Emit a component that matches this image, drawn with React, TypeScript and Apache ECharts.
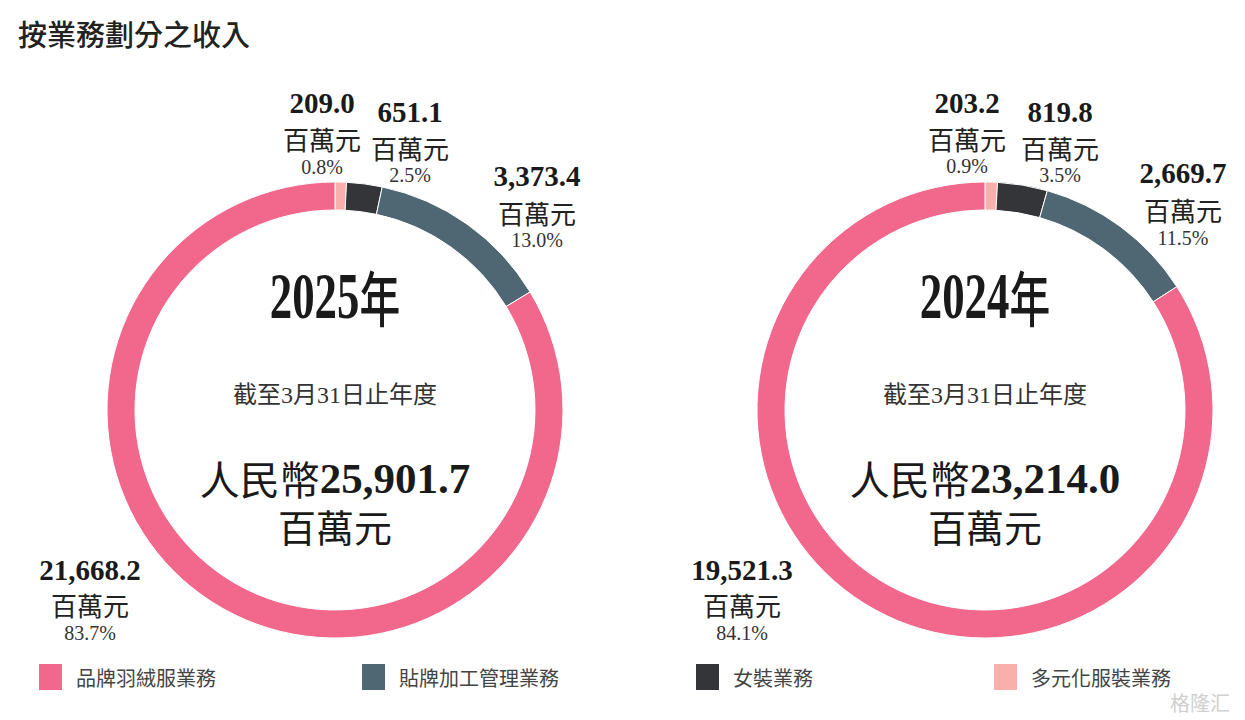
import React, { useEffect, useRef } from "react";
import * as echarts from "echarts";

const title = "按業務劃分之收入";
const categories = ["品牌羽絨服業務", "貼牌加工管理業務", "女裝業務", "多元化服裝業務"];
const colors = ["#F2678C", "#4E6773", "#333538", "#F9AFAB"];
const years = ["2025", "2024"];
const values2025 = [21668.2, 3373.4, 651.1, 209.0];
const values2024 = [19521.3, 2669.7, 819.8, 203.2];
const pct2025 = ["83.7%", "13.0%", "2.5%", "0.8%"];
const pct2024 = ["84.1%", "11.5%", "3.5%", "0.9%"];
const totals = [25901.7, 23214.0];
const unit = "百萬元";
const yearSuffix = "年";
const periodText = "截至3月31日止年度";
const currency = "人民幣";

const SERIF = "'Liberation Serif', 'Times New Roman', 'Noto Sans CJK TC', serif";
const CJK = "'Noto Sans CJK TC', 'Noto Sans CJK SC', sans-serif";

// layout: label anchor per category [x, yValue, yUnit, yPct]
const labelPos = [
  [
    [90, 570, 604, 633],
    [537, 176, 212, 240],
    [410, 112, 147, 175],
    [322, 103, 138, 167],
  ],
  [
    [742, 570, 604, 633],
    [1183, 173, 209, 238],
    [1060, 112, 147, 175],
    [967, 103, 138, 166],
  ],
];
const centers = [[335, 410], [985, 410]];
const legendLefts = [37, 360, 694, 992];

const fmt = (v: number) =>
  v.toLocaleString("en-US", { minimumFractionDigits: 1, maximumFractionDigits: 1 });

export default function App() {
  const ref = useRef<HTMLDivElement>(null);
  useEffect(() => {
    if (!ref.current) return;
    const chart = echarts.init(ref.current, null, { renderer: "svg" });
    const allValues = [values2025, values2024];
    const allPct = [pct2025, pct2024];

    const graphics: any[] = [
      {
        type: "text",
        x: 18,
        y: 33,
        style: {
          text: title,
          font: `500 29px ${CJK}`,
          fill: "#222",
          textAlign: "left",
          textVerticalAlign: "middle",
        },
      },
      {
        type: "text",
        x: 1200,
        y: 702,
        style: {
          text: "格隆汇",
          font: `20px ${CJK}`,
          fill: "#d0d0d0",
          textAlign: "center",
          textVerticalAlign: "middle",
        },
      },
    ];

    for (let c = 0; c < 2; c++) {
      const [cx] = centers[c];
      for (let i = 0; i < categories.length; i++) {
        const [lx, yv, yu, yp] = labelPos[c][i];
        graphics.push(
          {
            type: "text",
            x: lx,
            y: yv,
            style: {
              text: fmt(allValues[c][i]),
              font: `bold 29px ${SERIF}`,
              fill: "#1a1a1a",
              textAlign: "center",
              textVerticalAlign: "middle",
            },
          },
          {
            type: "text",
            x: lx,
            y: yu,
            style: {
              text: unit,
              font: `26px ${CJK}`,
              fill: "#222",
              textAlign: "center",
              textVerticalAlign: "middle",
            },
          },
          {
            type: "text",
            x: lx,
            y: yp,
            style: {
              text: allPct[c][i],
              font: `20px ${SERIF}`,
              fill: "#333",
              textAlign: "center",
              textVerticalAlign: "middle",
            },
          }
        );
      }
      graphics.push(
        {
          type: "text",
          x: cx,
          y: 296,
          scaleX: 0.68,
          style: {
            text: `{d|${years[c]}}{y|${yearSuffix}}`,
            textAlign: "center",
            textVerticalAlign: "middle",
            rich: {
              d: { font: `bold 66px ${SERIF}`, fill: "#1a1a1a" },
              y: { font: `500 60px ${CJK}`, fill: "#1a1a1a" },
            },
          },
        },
        {
          type: "text",
          x: cx,
          y: 395,
          style: {
            text: periodText,
            font: `24px ${SERIF}`,
            fill: "#333",
            textAlign: "center",
            textVerticalAlign: "middle",
          },
        },
        {
          type: "text",
          x: cx,
          y: 478,
          style: {
            text: `{a|${currency}}{b|${fmt(totals[c])}}`,
            textAlign: "center",
            textVerticalAlign: "middle",
            rich: {
              a: { font: `40px ${CJK}`, fill: "#1a1a1a" },
              b: { font: `bold 43px ${SERIF}`, fill: "#1a1a1a" },
            },
          },
        },
        {
          type: "text",
          x: cx,
          y: 525,
          style: {
            text: unit,
            font: `38px ${CJK}`,
            fill: "#1a1a1a",
            textAlign: "center",
            textVerticalAlign: "middle",
          },
        }
      );
    }

    const order = [3, 2, 1, 0]; // clockwise from top
    const series = [0, 1].map((c) => ({
      type: "pie",
      center: centers[c],
      radius: [200, 228],
      startAngle: 90,
      clockwise: true,
      label: { show: false },
      labelLine: { show: false },
      emphasis: { disabled: true },
      silent: true,
      itemStyle: { borderColor: "#fff", borderWidth: 1 },
      data: order.map((i) => ({
        name: categories[i],
        value: [values2025, values2024][c][i],
        itemStyle: { color: colors[i] },
      })),
    }));

    const legends = categories.map((name, i) => ({
      left: legendLefts[i],
      top: 662,
      padding: 0,
      data: [name],
      itemWidth: 25,
      itemHeight: 28,
      itemGap: 10,
      icon: "rect",
      selectedMode: false,
      textStyle: { fontFamily: CJK, fontSize: 20, color: "#444", padding: [0, 0, 0, 8] },
    }));

    chart.setOption({
      animation: false,
      backgroundColor: "#fff",
      color: colors,
      legend: legends,
      series,
      graphic: graphics,
    });
    return () => chart.dispose();
  }, []);
  return (
    <div
      ref={ref}
      style={{ position: "fixed", left: 0, top: 0, width: 1245, height: 720 }}
    />
  );
}
